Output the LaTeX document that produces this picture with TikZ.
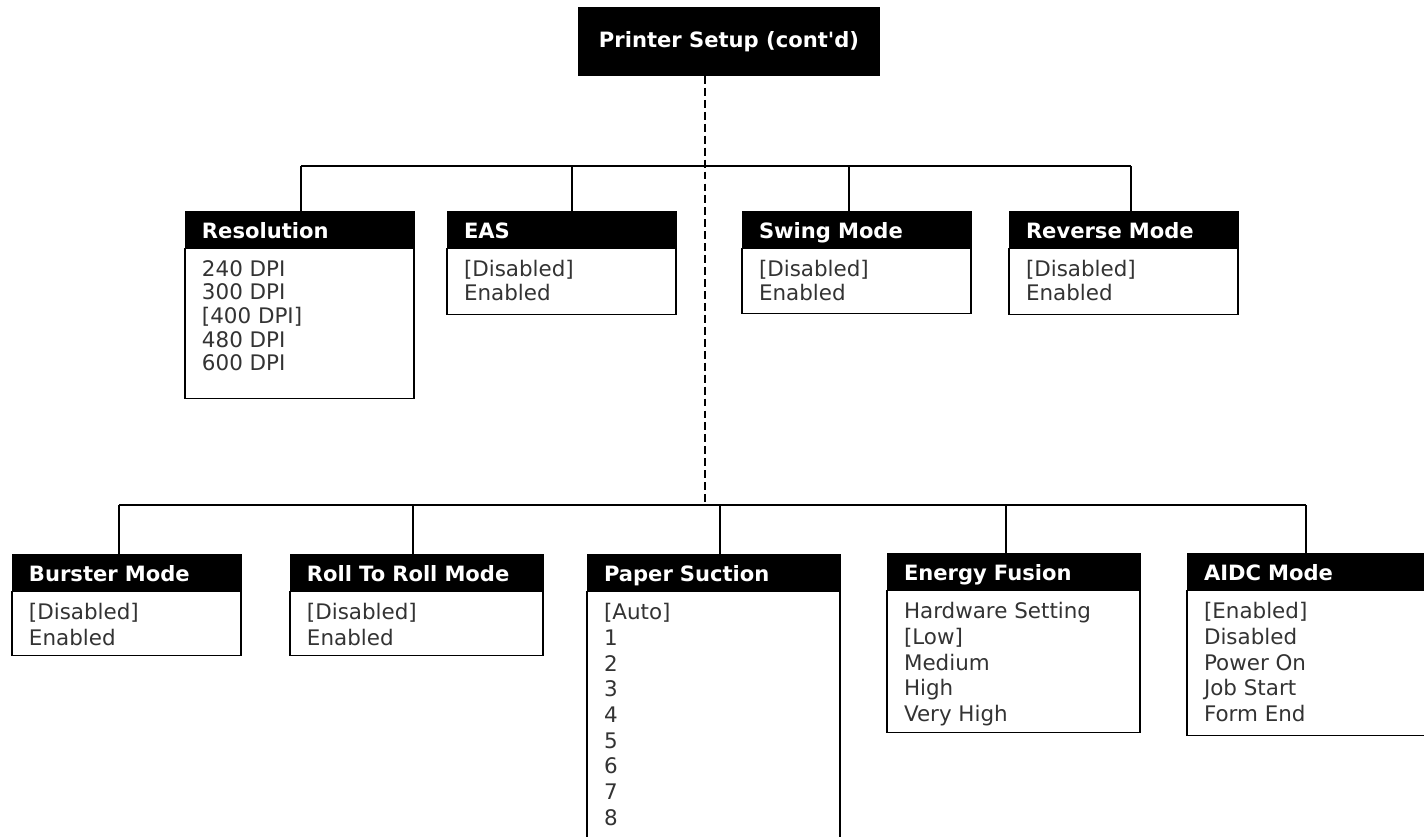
\documentclass[tikz,border=0pt]{standalone}
\usepackage{fontspec}
\setmainfont{DejaVu Sans}
\usetikzlibrary{positioning}
\definecolor{itemgray}{HTML}{333333}

\begin{document}
\begin{tikzpicture}[x=0.02cm, y=-0.02cm,
	titlebox/.style={fill=black, text=white, font=\bfseries\fontsize{12}{14}\selectfont,
		minimum width=6.04cm, minimum height=1.38cm, inner sep=0pt, outer sep=0pt},
	hdr/.style={draw=black, fill=black, text=white, font=\bfseries\fontsize{12}{14}\selectfont,
		anchor=north west, minimum height=0.75cm, inner xsep=0.34cm, inner ysep=0pt,
		outer sep=0pt, align=left, text width=#1, text height=11pt, text depth=1pt},
	body/.style={draw=black, line width=1pt, fill=white, inner sep=0pt, outer sep=0pt,
		minimum width=#1},
	items/.style={text=itemgray, font=\fontsize{12.2}{#1}\selectfont, align=left,
		inner xsep=0.34cm, inner ysep=0.24cm, outer sep=0pt},
	link/.style={line width=0.8pt},
	spine/.style={line width=0.8pt, dash pattern=on 4.5pt off 2.3pt}]
			
	\useasboundingbox[fill=white] (0,0) rectangle (1424,836);
	
	% Titolo
	\node[titlebox] (top) at (729,41.5) {Printer Setup (cont\textquotesingle d)};
	
	% Riga superiore
	\node[hdr=3.9cm] (resH) at (185,211) {Resolution};
	\node[body=4.58cm, minimum height=3cm, below right=0pt of resH.south west] (res) {};
	\node[items=13.4, below right=0pt of resH.south west] (resL) {240 DPI\\300 DPI\\{[400 DPI]}\\480 DPI\\600 DPI};
	
	\node[hdr=3.9cm] (easH) at (447,211) {EAS};
	\node[body=4.58cm, minimum height=1.32cm, below right=0pt of easH.south west] (eas) {};
	\node[items=13.4, below right=0pt of easH.south west] (easL) {{[Disabled]}\\Enabled};
	
	\node[hdr=3.9cm] (swingH) at (742,211) {Swing Mode};
	\node[body=4.58cm, minimum height=1.3cm, below right=0pt of swingH.south west] (swing) {};
	\node[items=13.4, below right=0pt of swingH.south west] (swingL) {{[Disabled]}\\Enabled};
	
	\node[hdr=3.9cm] (revH) at (1009,211) {Reverse Mode};
	\node[body=4.58cm, minimum height=1.32cm, below right=0pt of revH.south west] (rev) {};
	\node[items=13.4, below right=0pt of revH.south west] (revL) {{[Disabled]}\\Enabled};
	
	% Riga inferiore
	\node[hdr=3.9cm] (burstH) at (12,554) {Burster Mode};
	\node[body=4.58cm, minimum height=1.28cm, below right=0pt of burstH.south west] (burst) {};
	\node[items=14.6, below right=0pt of burstH.south west] (burstL) {{[Disabled]}\\Enabled};
	
	\node[hdr=4.38cm] (rollH) at (290,554) {Roll To Roll Mode};
	\node[body=5.06cm, minimum height=1.28cm, below right=0pt of rollH.south west] (roll) {};
	\node[items=14.6, below right=0pt of rollH.south west] (rollL) {{[Disabled]}\\Enabled};
	
	\node[hdr=4.38cm] (suctH) at (587,554) {Paper Suction};
	\node[body=5.06cm, minimum height=5.4cm, below right=0pt of suctH.south west] (suct) {};
	\node[items=14.6, below right=0pt of suctH.south west] (suctL) {{[Auto]}\\1\\2\\3\\4\\5\\6\\7\\8};
	
	\node[hdr=4.38cm] (fusH) at (887,553) {Energy Fusion};
	\node[body=5.06cm, minimum height=2.84cm, below right=0pt of fusH.south west] (fus) {};
	\node[items=14.6, below right=0pt of fusH.south west] (fusL) {Hardware Setting\\{[Low]}\\Medium\\High\\Very High};
	
	\node[hdr=4.38cm] (aidcH) at (1187,553) {AIDC Mode};
	\node[body=5.06cm, minimum height=2.9cm, below right=0pt of aidcH.south west] (aidc) {};
	\node[items=14.6, below right=0pt of aidcH.south west] (aidcL) {{[Enabled]}\\Disabled\\Power On\\Job Start\\Form End};
	
	% Collegamenti superiori
	\coordinate (ta) at (301,166);
	\coordinate (tb) at (572,166);
	\coordinate (tc) at (849,166);
	\coordinate (td) at (1131,166);
	\draw[link] (ta) -- (td);
	\foreach \c/\n in {ta/resH, tb/easH, tc/swingH, td/revH}
		\draw[link] (\c) -- (\c |- \n.north);
	
	% Collegamenti inferiori
	\coordinate (ba) at (119,505);
	\coordinate (bb) at (413,505);
	\coordinate (bc) at (720,505);
	\coordinate (bd) at (1006,505);
	\coordinate (be) at (1306,505);
	\draw[link] (ba) -- (be);
	\foreach \c/\n in {ba/burstH, bb/rollH, bc/suctH, bd/fusH, be/aidcH}
		\draw[link] (\c) -- (\c |- \n.north);
	
	% Linea tratteggiata
	\coordinate (sp) at (705,505);
	\draw[spine] (top.south -| sp) -- (sp);
	
\end{tikzpicture}
\end{document}
